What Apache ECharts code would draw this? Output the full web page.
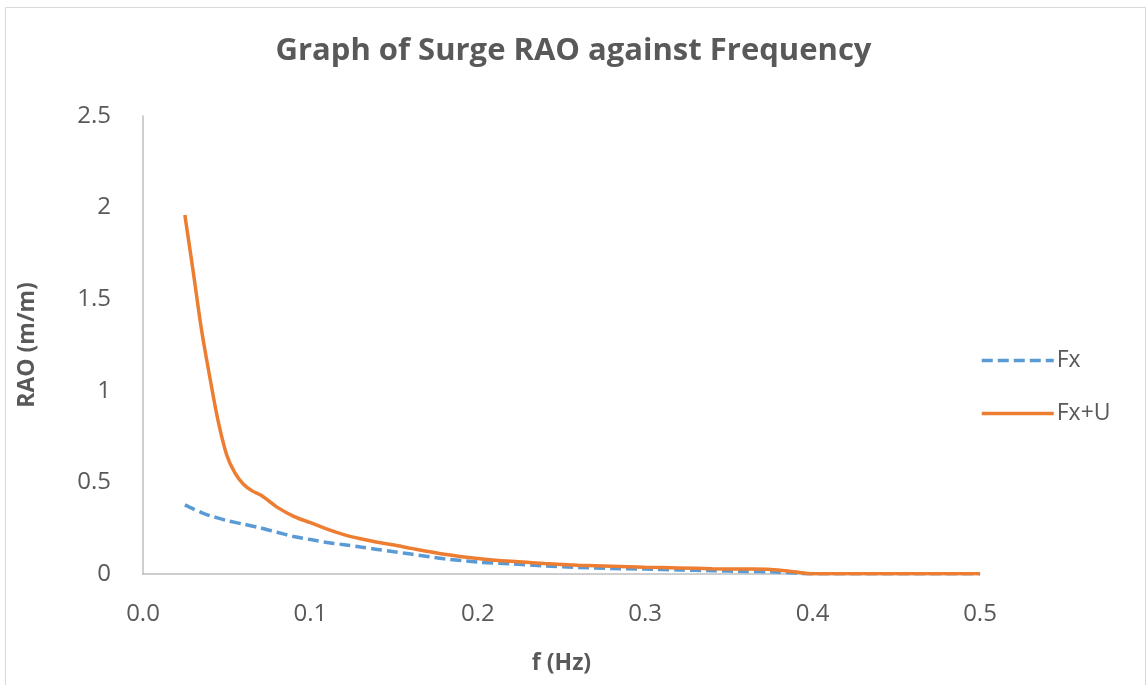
<!DOCTYPE html>
<html>
<head>
<meta charset="utf-8">
<script src="https://cdn.jsdelivr.net/npm/echarts@6/dist/echarts.min.js"></script>
<style>
html,body{margin:0;padding:0;background:#fff;}
#chart{width:1147px;height:685px;}
</style>
</head>
<body>
<div id="chart"></div>
<script>
// Data
const freqFx = [0.025,0.03,0.035,0.04,0.045,0.05,0.06,0.07,0.08,0.09,0.1,0.11,0.12,0.13,0.14,0.15,0.16,0.18,0.2,0.22,0.24,0.26,0.28,0.3,0.32,0.34,0.36,0.375,0.39,0.4,0.42,0.44,0.46,0.48,0.5];
const raoFx = [0.377,0.355,0.335,0.318,0.305,0.292,0.272,0.252,0.228,0.205,0.188,0.172,0.16,0.147,0.134,0.121,0.109,0.083,0.065,0.055,0.044,0.036,0.030,0.027,0.022,0.018,0.014,0.012,0.005,0.001,0.001,0.001,0.001,0.001,0.001];

const freqFxU = [0.025,0.03,0.035,0.04,0.045,0.05,0.055,0.06,0.065,0.07,0.075,0.08,0.09,0.1,0.11,0.12,0.13,0.14,0.15,0.16,0.18,0.2,0.22,0.24,0.26,0.28,0.3,0.32,0.34,0.36,0.375,0.385,0.395,0.4,0.42,0.44,0.46,0.48,0.5];
const raoFxU = [1.96,1.65,1.33,1.07,0.83,0.65,0.55,0.49,0.455,0.432,0.40,0.365,0.315,0.28,0.245,0.215,0.192,0.173,0.158,0.14,0.108,0.085,0.069,0.057,0.048,0.042,0.037,0.033,0.029,0.027,0.025,0.017,0.005,0.001,0.002,0.002,0.002,0.002,0.002];

const seriesNames = ['Fx', 'Fx+U'];
const titleText = 'Graph of Surge RAO against Frequency';
const xAxisName = 'f (Hz)';
const yAxisName = 'RAO (m/m)';

const pair = (xs, ys) => xs.map((x, i) => [x, ys[i]]);
const font = '"Open Sans", "Noto Sans", sans-serif';
const textColor = '#595959';
const blue = '#5B9BD5', orange = '#ED7D31';

const chart = echarts.init(document.getElementById('chart'), null, {renderer: 'canvas'});
chart.setOption({
  animation: false,
  backgroundColor: '#fff',
  title: {
    text: titleText,
    left: 'center',
    top: 31,
    textStyle: {fontFamily: font, fontSize: 31, fontWeight: 'bold', color: textColor}
  },
  graphic: [{
    type: 'rect',
    shape: {x: 5.5, y: 7.5, width: 1140, height: 690},
    style: {fill: 'none', stroke: '#d9d9d9', lineWidth: 1},
    silent: true
  }],
  grid: {left: 143, right: 167, top: 116, bottom: 111, containLabel: false},
  legend: {
    orient: 'vertical',
    left: 975,
    top: 344,
    itemGap: 30,
    itemWidth: 72,
    itemHeight: 14,
    itemStyle: {opacity: 0},
    textStyle: {fontFamily: font, fontSize: 23, color: textColor, padding: [0,0,0,-2]},
    data: [
      {name: seriesNames[0], lineStyle: {color: blue, width: 3.5, type: [11, 5]}},
      {name: seriesNames[1], lineStyle: {color: orange, width: 3.5}}
    ]
  },
  xAxis: {
    type: 'value',
    min: 0, max: 0.5, interval: 0.1,
    name: xAxisName,
    nameLocation: 'middle',
    nameGap: 78,
    nameTextStyle: {fontFamily: font, fontSize: 23, fontWeight: 'bold', color: textColor},
    axisLine: {show: true, lineStyle: {color: '#bfbfbf', width: 1.5}},
    axisTick: {show: false},
    splitLine: {show: false},
    axisLabel: {fontFamily: font, fontSize: 24, color: textColor, margin: 28, formatter: v => v.toFixed(1)}
  },
  yAxis: {
    type: 'value',
    min: 0, max: 2.5, interval: 0.5,
    name: yAxisName,
    nameLocation: 'middle',
    nameGap: 104,
    nameRotate: 90,
    nameTextStyle: {fontFamily: font, fontSize: 23, fontWeight: 'bold', color: textColor},
    axisLine: {show: true, lineStyle: {color: '#bfbfbf', width: 1.5}},
    axisTick: {show: false},
    splitLine: {show: false},
    axisLabel: {fontFamily: font, fontSize: 24, color: textColor, margin: 32, formatter: v => String(v)}
  },
  series: [
    {
      name: seriesNames[0],
      type: 'line',
      data: pair(freqFx, raoFx),
      symbol: 'none',
      smooth: 0.3,
      lineStyle: {color: blue, width: 3.5, type: [11, 5]},
      itemStyle: {color: blue}
    },
    {
      name: seriesNames[1],
      type: 'line',
      data: pair(freqFxU, raoFxU),
      symbol: 'none',
      smooth: 0.3,
      lineStyle: {color: orange, width: 3.5},
      itemStyle: {color: orange}
    }
  ]
});
</script>
</body>
</html>
